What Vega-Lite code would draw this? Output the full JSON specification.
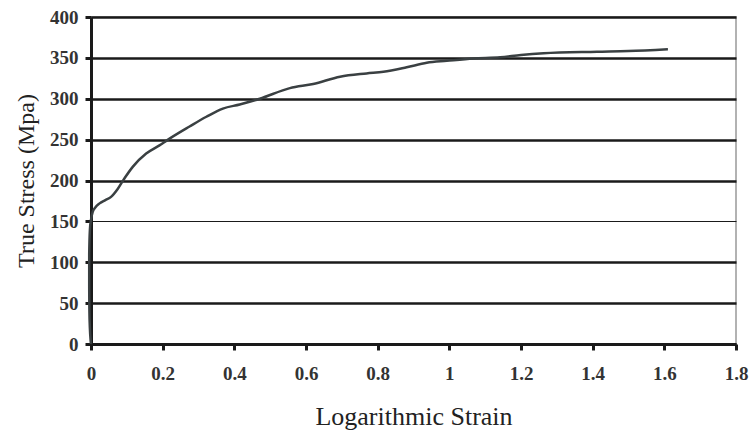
{
  "$schema": "https://vega.github.io/schema/vega-lite/v6.json",
  "width": 645,
  "height": 327,
  "autosize": {"type": "none"},
  "padding": {"left": 91, "top": 17, "right": 16, "bottom": 91},
  "background": "white",
  "config": {
    "view": {"stroke": "#999999", "strokeWidth": 1.5},
    "font": "Liberation Serif"
  },
  "data": {
    "values": [
      {"strain": 0, "stress": 0},
      {"strain": -0.004, "stress": 30},
      {"strain": -0.005, "stress": 70},
      {"strain": -0.005, "stress": 110},
      {"strain": -0.003, "stress": 140},
      {"strain": 0.0, "stress": 152},
      {"strain": 0.005, "stress": 162},
      {"strain": 0.012, "stress": 167},
      {"strain": 0.024, "stress": 172},
      {"strain": 0.04, "stress": 176},
      {"strain": 0.056, "stress": 180},
      {"strain": 0.075, "stress": 190},
      {"strain": 0.094, "stress": 203},
      {"strain": 0.117, "stress": 217},
      {"strain": 0.154, "stress": 233},
      {"strain": 0.191, "stress": 243},
      {"strain": 0.215, "stress": 250},
      {"strain": 0.275, "stress": 266},
      {"strain": 0.322, "stress": 278},
      {"strain": 0.368, "stress": 288},
      {"strain": 0.415, "stress": 293},
      {"strain": 0.471, "stress": 300},
      {"strain": 0.555, "stress": 313},
      {"strain": 0.62, "stress": 318},
      {"strain": 0.695, "stress": 327},
      {"strain": 0.769, "stress": 331},
      {"strain": 0.816, "stress": 333},
      {"strain": 0.881, "stress": 338.5},
      {"strain": 0.937, "stress": 344},
      {"strain": 0.993, "stress": 346.4},
      {"strain": 1.067, "stress": 349.3},
      {"strain": 1.142, "stress": 350.7},
      {"strain": 1.2, "stress": 353.5},
      {"strain": 1.263, "stress": 355.6},
      {"strain": 1.412, "stress": 357.5},
      {"strain": 1.5, "stress": 358.4},
      {"strain": 1.61, "stress": 360.7}
    ]
  },
  "mark": {"type": "line", "color": "#3a4042", "strokeWidth": 2.5, "interpolate": "monotone"},
  "encoding": {
    "order": {"value": null},
    "x": {
      "field": "strain",
      "type": "quantitative",
      "scale": {"domain": [0, 1.8], "nice": false, "zero": false},
      "axis": {
        "title": "Logarithmic Strain",
        "values": [0, 0.2, 0.4, 0.6, 0.8, 1, 1.2, 1.4, 1.6, 1.8],
        "labelExpr": "'' + datum.value",
        "grid": false,
        "domainColor": "#1a1a1a",
        "domainWidth": 3,
        "tickColor": "#1a1a1a",
        "tickWidth": 3,
        "tickSize": 6,
        "labelFont": "Liberation Serif",
        "labelFontSize": 19,
        "labelFontWeight": "bold",
        "labelColor": "#333333",
        "labelPadding": 14,
        "labelFlush": false,
        "titleFont": "Liberation Serif",
        "titleFontSize": 26,
        "titleFontWeight": "normal",
        "titleColor": "#222222",
        "titlePadding": 20
      }
    },
    "y": {
      "field": "stress",
      "type": "quantitative",
      "scale": {"domain": [0, 400], "nice": false},
      "axis": {
        "title": "True Stress (Mpa)",
        "values": [0, 50, 100, 150, 200, 250, 300, 350, 400],
        "grid": true,
        "gridColor": "#1a1a1a",
        "gridWidth": {"condition": {"test": "datum.value === 150", "value": 1}, "value": 2.5},
        "domainColor": "#1a1a1a",
        "domainWidth": 3,
        "tickColor": "#1a1a1a",
        "tickWidth": 3,
        "tickSize": 6,
        "labelFont": "Liberation Serif",
        "labelFontSize": 19,
        "labelFontWeight": "bold",
        "labelColor": "#333333",
        "labelPadding": 7,
        "labelFlush": false,
        "titleFont": "Liberation Serif",
        "titleFontSize": 24,
        "titleFontWeight": "normal",
        "titleColor": "#222222",
        "titlePadding": 11
      }
    }
  }
}
